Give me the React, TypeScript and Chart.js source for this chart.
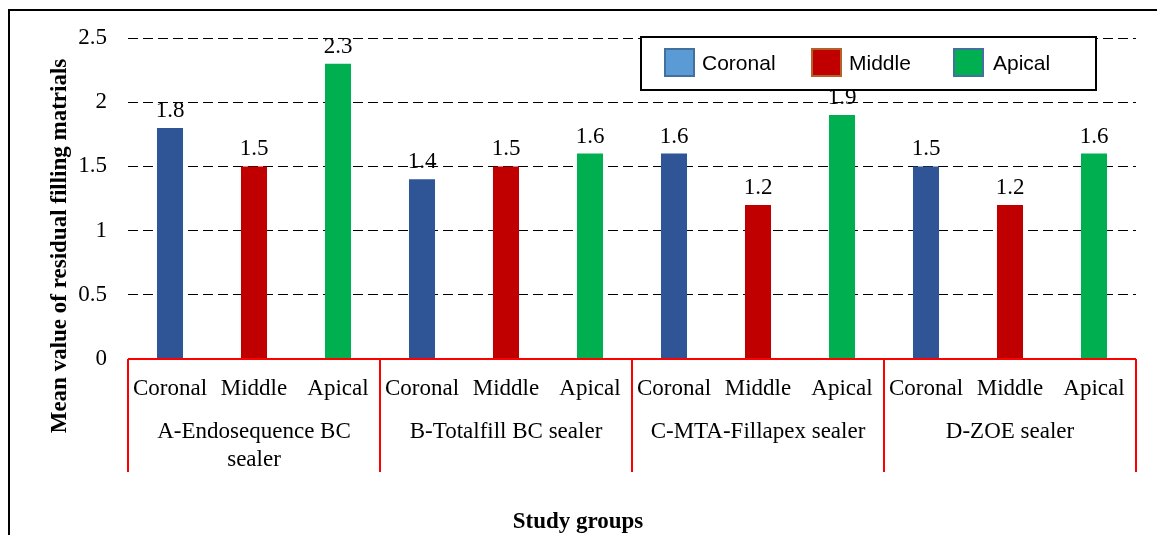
import React, { useEffect, useRef } from "react";
import { Chart, registerables } from "chart.js";

Chart.register(...registerables);

// ---- data ----
const groupNames: string[][] = [
  ["A-Endosequence BC", "sealer"],
  ["B-Totalfill BC sealer"],
  ["C-MTA-Fillapex sealer"],
  ["D-ZOE sealer"],
];
const segments = ["Coronal", "Middle", "Apical"];
const coronalValues = [1.8, 1.4, 1.6, 1.5];
const middleValues = [1.5, 1.5, 1.2, 1.2];
const apicalValues = [2.3, 1.6, 1.9, 1.6];
const yTickValues = [0, 0.5, 1, 1.5, 2, 2.5];
const yTitle = "Mean value of residual filling matrials";
const xTitle = "Study groups";

const barColors = ["#2F5597", "#C00000", "#00B050"];
const legendFill = ["#5B9BD5", "#C00000", "#00B050"];
const legendEdge = ["#41719C", "#B4622A", "#41719C"];

const SERIF = '"Liberation Serif", "Times New Roman", serif';
const SANS = '"Liberation Sans", Arial, sans-serif';

const labels = groupNames.flatMap(() => segments);
const spread = (vals: number[], k: number) =>
  labels.map((_, i) => (i % 3 === k ? vals[Math.floor(i / 3)] : null));

const decoPlugin = {
  id: "deco",
  afterDatasetsDraw(chart: any) {
    const ctx = chart.ctx;
    ctx.save();
    ctx.fillStyle = "#000";
    ctx.font = `23px ${SERIF}`;
    ctx.textAlign = "center";
    ctx.textBaseline = "alphabetic";
    chart.data.datasets.forEach((ds: any, di: number) => {
      const meta = chart.getDatasetMeta(di);
      meta.data.forEach((el: any, i: number) => {
        const v = ds.data[i];
        if (v === null || v === undefined) return;
        ctx.fillText(String(v), el.x, el.y - 11);
      });
    });
    ctx.restore();
  },
  afterDraw(chart: any) {
    const ctx = chart.ctx;
    const x = chart.scales.x;
    const area = chart.chartArea;
    const catW = (area.right - area.left) / labels.length;
    ctx.save();

    // red category frame
    ctx.strokeStyle = "#FF0000";
    ctx.lineWidth = 2;
    ctx.beginPath();
    ctx.moveTo(area.left, area.bottom);
    ctx.lineTo(area.right, area.bottom);
    for (let g = 0; g <= groupNames.length; g++) {
      const px = g < groupNames.length
        ? x.getPixelForValue(g * 3) - catW / 2
        : x.getPixelForValue(g * 3 - 1) + catW / 2;
      ctx.moveTo(px, area.bottom);
      ctx.lineTo(px, 472);
    }
    ctx.stroke();

    // group labels
    ctx.fillStyle = "#000";
    ctx.font = `23px ${SERIF}`;
    ctx.textAlign = "center";
    ctx.textBaseline = "alphabetic";
    groupNames.forEach((lines, g) => {
      const cx = x.getPixelForValue(g * 3 + 1);
      lines.forEach((t, li) => ctx.fillText(t, cx, 438 + li * 28));
    });

    // axis titles
    ctx.font = `bold 23px ${SERIF}`;
    ctx.fillText(xTitle, 578, 528);
    ctx.save();
    ctx.translate(66, 246);
    ctx.rotate(-Math.PI / 2);
    ctx.fillText(yTitle, 0, 0);
    ctx.restore();

    // legend
    ctx.fillStyle = "#fff";
    ctx.fillRect(641, 37, 455, 53);
    ctx.strokeStyle = "#000";
    ctx.lineWidth = 2;
    ctx.strokeRect(641, 37, 455, 53);
    const swX = [665, 812, 954];
    const txX = [702, 849, 993];
    ctx.font = `21px ${SANS}`;
    ctx.textAlign = "left";
    ctx.textBaseline = "middle";
    segments.forEach((s, i) => {
      ctx.fillStyle = legendFill[i];
      ctx.fillRect(swX[i], 49, 29, 27);
      ctx.strokeStyle = legendEdge[i];
      ctx.lineWidth = 2;
      ctx.strokeRect(swX[i], 49, 29, 27);
      ctx.fillStyle = "#000";
      ctx.fillText(s, txX[i], 64);
    });

    // outer frame
    ctx.strokeStyle = "#000";
    ctx.lineWidth = 2;
    ctx.beginPath();
    ctx.moveTo(9, 540);
    ctx.lineTo(9, 10);
    ctx.lineTo(1160, 10);
    ctx.stroke();
    ctx.restore();
  },
};

export default function App() {
  const ref = useRef<HTMLCanvasElement>(null);
  useEffect(() => {
    if (!ref.current) return;
    const chart = new Chart(ref.current, {
      type: "bar",
      data: {
        labels,
        datasets: [
          { label: segments[0], data: spread(coronalValues, 0), backgroundColor: barColors[0] },
          { label: segments[1], data: spread(middleValues, 1), backgroundColor: barColors[1] },
          { label: segments[2], data: spread(apicalValues, 2), backgroundColor: barColors[2] },
        ],
      },
      options: {
        responsive: false,
        animation: false,
        skipNull: true,
        datasets: { bar: { barPercentage: 0.31, categoryPercentage: 1 } },
        layout: { autoPadding: false, padding: { left: 0, right: 21, top: 38, bottom: 0 } },
        plugins: { legend: { display: false }, tooltip: { enabled: false } },
        scales: {
          x: {
            grid: { display: false, drawTicks: false },
            border: { display: false },
            ticks: { color: "#000", font: { family: SERIF, size: 23 }, padding: 16, maxRotation: 0, autoSkip: false },
            afterFit: (s: any) => { s.height = 176; },
          },
          y: {
            min: 0,
            max: 2.5,
            grid: { color: "#000", lineWidth: 1, drawTicks: false },
            border: { display: false, dash: [10, 5] },
            ticks: {
              color: "#000",
              font: { family: SERIF, size: 23 },
              padding: 21,
              callback: (v: any) => String(v),
            },
            afterBuildTicks: (s: any) => { s.ticks = yTickValues.map((v) => ({ value: v })); },
            afterFit: (s: any) => { s.width = 128; },
          },
        },
      } as any,
      plugins: [decoPlugin],
    });
    return () => chart.destroy();
  }, []);
  return (
    <canvas
      ref={ref}
      width={1157}
      height={535}
      style={{ position: "absolute", left: 0, top: 0, display: "block" }}
    />
  );
}
